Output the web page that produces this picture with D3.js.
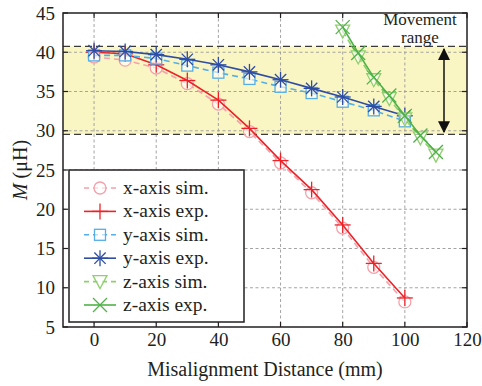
<!DOCTYPE html>
<html><head><meta charset="utf-8">
<script src="https://cdn.jsdelivr.net/npm/d3@7"></script>
<style>body{margin:0;background:#fff}svg{display:block}</style>
</head><body><svg id="c" width="482" height="386"></svg>
<script>
const xsDist = [0,10,20,30,40,50,60,70,80,90,100];
const zDist = [80,85,90,95,100,105,110];
const xSim = [39.4,39.0,38.0,36.0,33.4,29.9,25.9,22.1,17.6,12.6,8.2];
const xExp = [40.0,39.8,38.4,36.4,33.9,30.3,26.2,22.5,18.0,13.1,8.7];
const ySim = [39.6,39.6,39.2,38.3,37.4,36.6,35.6,34.8,33.7,32.6,31.2];
const yExp = [40.2,40.1,39.7,39.1,38.4,37.5,36.5,35.4,34.3,33.1,31.9];
const zSim = [42.7,39.4,36.5,34.1,31.5,29.1,26.9];
const zExp = [43.2,39.9,36.8,34.5,31.9,29.4,27.3];
const bandRange = [29.55,40.75];
const xTicks = [0,20,40,60,80,100,120];
const yTicks = [5,10,15,20,25,30,35,40,45];
const legendLabels = ["x-axis sim.","x-axis exp.","y-axis sim.","y-axis exp.","z-axis sim.","z-axis exp."];

const FONT = "Liberation Serif";
const TXT = "#231f20";
const svg = d3.select("#c");
const L=63,R=467,T=13,B=327;
const x = d3.scaleLinear().domain([-10,120]).range([L,R]);
const y = d3.scaleLinear().domain([5,45]).range([B,T]);

svg.append("rect").attr("x",L).attr("width",R-L).attr("y",y(bandRange[1])).attr("height",y(bandRange[0])-y(bandRange[1]))
  .attr("fill","#faf6c4");
const g = svg.append("g").attr("stroke","#9a9a9a").attr("stroke-width",0.9).attr("stroke-dasharray","3,2.5");
xTicks.filter(t=>t<120).forEach(t=>g.append("line").attr("x1",x(t)).attr("x2",x(t)).attr("y1",T).attr("y2",B));
yTicks.filter(t=>t>5&&t<45).forEach(t=>g.append("line").attr("y1",y(t)).attr("y2",y(t)).attr("x1",L).attr("x2",R));
bandRange.forEach(v=>{
  svg.append("line").attr("x1",L).attr("x2",R).attr("y1",y(v)).attr("y2",y(v)).attr("stroke","#3a3a3a").attr("stroke-width",1.3).attr("stroke-dasharray","7,4");
});

const ax = svg.append("g").attr("transform",`translate(0,${B})`).call(d3.axisBottom(x).tickValues(xTicks).tickSize(0).tickPadding(6));
const ay = svg.append("g").attr("transform",`translate(${L},0)`).call(d3.axisLeft(y).tickValues(yTicks).tickSize(0).tickPadding(8));
[ax,ay].forEach(a=>{a.attr("font-family",FONT).attr("font-size",19);a.select(".domain").remove();a.selectAll("text").attr("fill",TXT).attr("font-family",FONT);});
const tk = svg.append("g").attr("stroke",TXT).attr("stroke-width",1.2);
xTicks.forEach(t=>{tk.append("line").attr("x1",x(t)).attr("x2",x(t)).attr("y1",B).attr("y2",B-5);tk.append("line").attr("x1",x(t)).attr("x2",x(t)).attr("y1",T).attr("y2",T+5);});
yTicks.forEach(t=>{tk.append("line").attr("y1",y(t)).attr("y2",y(t)).attr("x1",L).attr("x2",L+5);tk.append("line").attr("y1",y(t)).attr("y2",y(t)).attr("x1",R).attr("x2",R-5);});

// white background for the annotation
svg.append("rect").attr("x",381).attr("y",14).attr("width",82).attr("height",31).attr("fill","#fff");

function marker(sel,type,color,cx,cy){
  const s = sel.append("g").attr("transform",`translate(${cx},${cy})`).attr("fill","none").attr("stroke",color).attr("stroke-width",1.3);
  if(type==="circle") s.append("circle").attr("r",6).attr("fill","#fff").attr("fill-opacity",0.6);
  if(type==="plus"){s.append("line").attr("x1",-8).attr("x2",8);s.append("line").attr("y1",-8).attr("y2",8);}
  if(type==="square") s.append("rect").attr("x",-5.5).attr("y",-5.5).attr("width",11).attr("height",11).attr("fill","#fff").attr("fill-opacity",0.6);
  if(type==="star"){[0,45,90,135].forEach(a=>{const r=a*Math.PI/180;s.append("line").attr("x1",-8*Math.cos(r)).attr("y1",-8*Math.sin(r)).attr("x2",8*Math.cos(r)).attr("y2",8*Math.sin(r));});}
  if(type==="tri") s.append("path").attr("d","M-7,-6L7,-6L0,7Z").attr("fill","#fff").attr("fill-opacity",0.6);
  if(type==="x"){s.append("line").attr("x1",-7).attr("y1",-7).attr("x2",7).attr("y2",7);s.append("line").attr("x1",-7).attr("y1",7).attr("x2",7).attr("y2",-7);}
}
const series = [
  {xs:xsDist,v:xSim,color:"#f4a1a9",dash:"6,4",m:"circle"},
  {xs:xsDist,v:xExp,color:"#ec2228",dash:null,m:"plus"},
  {xs:xsDist,v:ySim,color:"#55aee6",dash:"6,4",m:"square"},
  {xs:xsDist,v:yExp,color:"#2e4da3",dash:null,m:"star"},
  {xs:zDist,v:zSim,color:"#8fcf6e",dash:"6,4",m:"tri"},
  {xs:zDist,v:zExp,color:"#4fb248",dash:null,m:"x"}
];
const line = d3.line();
series.forEach(s=>{
  const pts = s.xs.map((d,i)=>[x(d),y(s.v[i])]);
  svg.append("path").attr("d",line(pts)).attr("fill","none").attr("stroke",s.color).attr("stroke-width",1.6).attr("stroke-dasharray",s.dash);
  const mg = svg.append("g");
  pts.forEach(p=>marker(mg,s.m,s.color,p[0],p[1]));
});

svg.append("rect").attr("x",L).attr("y",T).attr("width",R-L).attr("height",B-T).attr("fill","none").attr("stroke",TXT).attr("stroke-width",1.5);

const axX = 444;
svg.append("defs").html('<marker id="ah" viewBox="0 0 10 10" refX="9" refY="5" markerWidth="12" markerHeight="12" markerUnits="userSpaceOnUse" orient="auto-start-reverse"><path d="M0,0L10,5L0,10Z" fill="#111"/></marker>');
svg.append("line").attr("x1",axX).attr("x2",axX).attr("y1",y(40.4)).attr("y2",y(29.85)).attr("stroke","#111").attr("stroke-width",1.5)
  .attr("marker-start","url(#ah)").attr("marker-end","url(#ah)");
svg.append("text").attr("x",420).attr("y",25).attr("text-anchor","middle").attr("font-family",FONT).attr("font-size",17).attr("fill",TXT).text("Movement");
svg.append("text").attr("x",420).attr("y",43).attr("text-anchor","middle").attr("font-family",FONT).attr("font-size",17).attr("fill",TXT).text("range");

const lg = svg.append("g");
lg.append("rect").attr("x",69).attr("y",170).attr("width",175).attr("height",152).attr("fill","#fff").attr("stroke",TXT).attr("stroke-width",1.5);
series.forEach((s,i)=>{
  const yy = 188 + i*23.4;
  lg.append("line").attr("x1",84).attr("x2",116).attr("y1",yy).attr("y2",yy).attr("stroke",s.color).attr("stroke-width",1.6).attr("stroke-dasharray",s.dash?"5,4":null);
  marker(lg,s.m,s.color,100,yy);
  lg.append("text").attr("x",123).attr("y",yy+6).attr("font-family",FONT).attr("font-size",19.5).attr("fill",TXT).text(legendLabels[i]);
});

svg.append("text").attr("x",(L+R)/2).attr("y",376).attr("text-anchor","middle").attr("font-family",FONT).attr("font-size",20).attr("fill",TXT).text("Misalignment Distance (mm)");
const yt = svg.append("text").attr("transform",`translate(27,${(T+B)/2}) rotate(-90)`).attr("text-anchor","middle").attr("font-family",FONT).attr("font-size",20).attr("fill",TXT);
yt.append("tspan").attr("font-style","italic").text("M");
yt.append("tspan").text(" (μH)");
</script></body></html>
